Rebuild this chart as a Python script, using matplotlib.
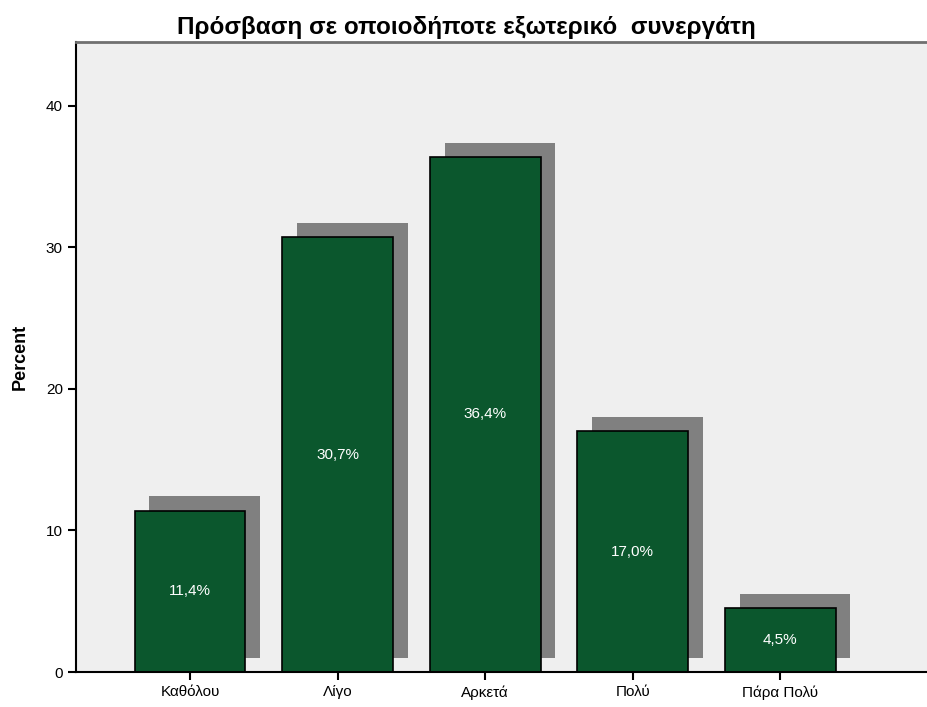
import matplotlib.pyplot as plt
import numpy as np

categories = ["Καθόλου", "Λίγο", "Αρκετά", "Πολύ", "Πάρα Πολύ"]
percents = [11.4, 30.7, 36.4, 17.0, 4.5]
labels = ["11,4%", "30,7%", "36,4%", "17,0%", "4,5%"]

plt.rcParams['font.family'] = ['Liberation Sans', 'DejaVu Sans']

fig = plt.figure(figsize=(9.28, 7.07), dpi=100)
ax = fig.add_axes([0.0819, 0.0495, 0.918, 0.891])
ax.set_facecolor("#efefef")

x = np.arange(len(categories))
width = 0.75

# sombra gris detrás de cada barra
ax.bar(x + 0.1, percents, width=width, bottom=1.0, color="#808080", zorder=1)
# barras principales
ax.bar(x, percents, width=width, color="#0b572d", edgecolor="black", linewidth=1.2, zorder=2)

for xi, v, lab in zip(x, percents, labels):
    ax.text(xi, v / 2, lab, ha="center", va="center", color="white", fontsize=11, zorder=3)

ax.set_xlim(-0.773, 5.0)
ax.set_ylim(0, 44.5)
ax.set_yticks([0, 10, 20, 30, 40])
ax.set_xticks(x)
ax.set_xticklabels(categories, fontsize=11)
ax.tick_params(axis="y", labelsize=11, length=6, width=1.5)
ax.tick_params(axis="x", length=6, width=1.5)

ax.spines["left"].set_linewidth(1.5)
ax.spines["bottom"].set_linewidth(1.5)
ax.spines["top"].set_color("#707070")
ax.spines["top"].set_linewidth(2)
ax.spines["right"].set_visible(False)

ax.set_ylabel("Percent", fontsize=13, fontweight="bold", labelpad=12)
fig.text(0.503, 0.961, "Πρόσβαση σε οποιοδήποτε εξωτερικό  συνεργάτη", ha="center", va="center",
         fontsize=17.5, fontweight="bold")

fig.savefig("out.png", dpi=100)
